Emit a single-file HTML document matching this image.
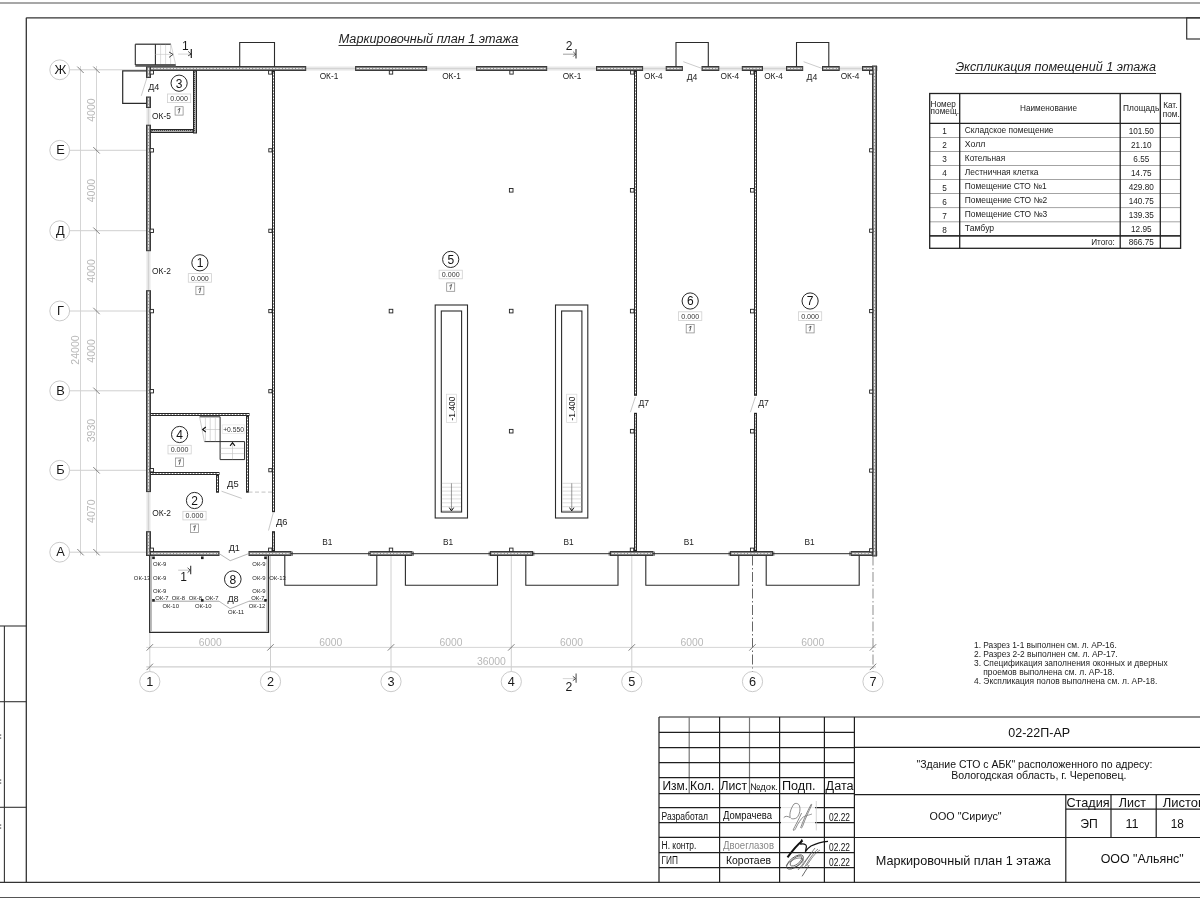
<!DOCTYPE html>
<html><head><meta charset="utf-8"><title>Маркировочный план 1 этажа</title>
<style>
html,body{margin:0;padding:0;background:#fff;}
body{width:1200px;height:900px;overflow:hidden;font-family:"Liberation Sans",sans-serif;}
svg{display:block;will-change:transform;}
</style></head>
<body>
<svg width="1200" height="900" viewBox="0 0 1200 900" font-family="Liberation Sans, sans-serif">
<rect width="1200" height="900" fill="#fff"/>
<line x1="0" y1="3" x2="1200" y2="3" stroke="#8a8a8a" stroke-width="1.4" />
<line x1="26.3" y1="17.8" x2="1200" y2="17.8" stroke="#333" stroke-width="1.3" />
<line x1="26.3" y1="17.8" x2="26.3" y2="882.3" stroke="#333" stroke-width="1.3" />
<line x1="0" y1="882.3" x2="1200" y2="882.3" stroke="#333" stroke-width="1.3" />
<line x1="0" y1="897.5" x2="1200" y2="897.5" stroke="#555" stroke-width="1.1" />
<rect x="1186.7" y="17.8" width="20" height="21.2" stroke="#333" stroke-width="1.2" fill="none" />
<line x1="0" y1="626" x2="26.3" y2="626" stroke="#333" stroke-width="1.1" />
<line x1="0" y1="701.7" x2="26.3" y2="701.7" stroke="#333" stroke-width="1.1" />
<line x1="0" y1="807.3" x2="26.3" y2="807.3" stroke="#333" stroke-width="1.1" />
<line x1="4.4" y1="626" x2="4.4" y2="882.3" stroke="#333" stroke-width="1.1" />
<rect x="0" y="734.5" width="1.2" height="1.1" fill="#444"/><rect x="0" y="737.5" width="1.2" height="1.1" fill="#444"/>
<rect x="0" y="779.5" width="1.2" height="1.1" fill="#444"/><rect x="0" y="782.5" width="1.2" height="1.1" fill="#444"/>
<rect x="0" y="824.5" width="1.2" height="1.1" fill="#444"/><rect x="0" y="827.5" width="1.2" height="1.1" fill="#444"/>
<text x="338.7" y="42.5" font-size="12" text-anchor="start" fill="#222" font-family="Liberation Sans" textLength="179.5" lengthAdjust="spacingAndGlyphs" font-style="italic" >Маркировочный план 1 этажа</text>
<line x1="338.5" y1="45.5" x2="518.5" y2="45.5" stroke="#333" stroke-width="1" />
<text x="955.4" y="70.8" font-size="12" text-anchor="start" fill="#222" font-family="Liberation Sans" textLength="200.5" lengthAdjust="spacingAndGlyphs" font-style="italic" >Экспликация помещений 1 этажа</text>
<line x1="955.2" y1="73.5" x2="1156" y2="73.5" stroke="#333" stroke-width="1" />
<circle cx="59.7" cy="69.8" r="9.9" stroke="#bdbdbd" stroke-width="0.8" fill="#fff"/>
<text x="60.4" y="73.89999999999999" font-size="12.8" text-anchor="middle" fill="#1a1a1a" font-family="Liberation Sans"  >Ж</text>
<line x1="69.6" y1="69.8" x2="146.5" y2="69.8" stroke="#cbcbcb" stroke-width="0.9" />
<circle cx="59.7" cy="150.3" r="9.9" stroke="#bdbdbd" stroke-width="0.8" fill="#fff"/>
<text x="60.4" y="154.4" font-size="12.8" text-anchor="middle" fill="#1a1a1a" font-family="Liberation Sans"  >Е</text>
<line x1="69.6" y1="150.3" x2="146.5" y2="150.3" stroke="#cbcbcb" stroke-width="0.9" />
<circle cx="59.7" cy="230.7" r="9.9" stroke="#bdbdbd" stroke-width="0.8" fill="#fff"/>
<text x="60.4" y="234.79999999999998" font-size="12.8" text-anchor="middle" fill="#1a1a1a" font-family="Liberation Sans"  >Д</text>
<line x1="69.6" y1="230.7" x2="146.5" y2="230.7" stroke="#cbcbcb" stroke-width="0.9" />
<circle cx="59.7" cy="311" r="9.9" stroke="#bdbdbd" stroke-width="0.8" fill="#fff"/>
<text x="60.4" y="315.1" font-size="12.8" text-anchor="middle" fill="#1a1a1a" font-family="Liberation Sans"  >Г</text>
<line x1="69.6" y1="311" x2="146.5" y2="311" stroke="#cbcbcb" stroke-width="0.9" />
<circle cx="59.7" cy="390.8" r="9.9" stroke="#bdbdbd" stroke-width="0.8" fill="#fff"/>
<text x="60.4" y="394.90000000000003" font-size="12.8" text-anchor="middle" fill="#1a1a1a" font-family="Liberation Sans"  >В</text>
<line x1="69.6" y1="390.8" x2="146.5" y2="390.8" stroke="#cbcbcb" stroke-width="0.9" />
<circle cx="59.7" cy="470.3" r="9.9" stroke="#bdbdbd" stroke-width="0.8" fill="#fff"/>
<text x="60.4" y="474.40000000000003" font-size="12.8" text-anchor="middle" fill="#1a1a1a" font-family="Liberation Sans"  >Б</text>
<line x1="69.6" y1="470.3" x2="146.5" y2="470.3" stroke="#cbcbcb" stroke-width="0.9" />
<circle cx="59.7" cy="552.2" r="9.9" stroke="#bdbdbd" stroke-width="0.8" fill="#fff"/>
<text x="60.4" y="556.3000000000001" font-size="12.8" text-anchor="middle" fill="#1a1a1a" font-family="Liberation Sans"  >А</text>
<line x1="69.6" y1="552.2" x2="146.5" y2="552.2" stroke="#cbcbcb" stroke-width="0.9" />
<line x1="80.5" y1="66" x2="80.5" y2="555.5" stroke="#d0d0d0" stroke-width="0.9" />
<line x1="96.5" y1="66" x2="96.5" y2="555.5" stroke="#d0d0d0" stroke-width="0.9" />
<line x1="93.3" y1="66.6" x2="99.7" y2="73.0" stroke="#606060" stroke-width="0.8" />
<line x1="93.3" y1="147.10000000000002" x2="99.7" y2="153.5" stroke="#606060" stroke-width="0.8" />
<line x1="93.3" y1="227.5" x2="99.7" y2="233.89999999999998" stroke="#606060" stroke-width="0.8" />
<line x1="93.3" y1="307.8" x2="99.7" y2="314.2" stroke="#606060" stroke-width="0.8" />
<line x1="93.3" y1="387.6" x2="99.7" y2="394.0" stroke="#606060" stroke-width="0.8" />
<line x1="93.3" y1="467.1" x2="99.7" y2="473.5" stroke="#606060" stroke-width="0.8" />
<line x1="93.3" y1="549.0" x2="99.7" y2="555.4000000000001" stroke="#606060" stroke-width="0.8" />
<line x1="77.3" y1="66.6" x2="83.7" y2="73.0" stroke="#606060" stroke-width="0.8" />
<line x1="77.3" y1="549.0" x2="83.7" y2="555.4000000000001" stroke="#606060" stroke-width="0.8" />
<text transform="translate(94.6,110.1) rotate(-90)" x="0" y="0" font-size="11" text-anchor="middle" fill="#b8b8b8" font-family="Liberation Sans" textLength="23.5" lengthAdjust="spacingAndGlyphs">4000</text>
<text transform="translate(94.6,190.5) rotate(-90)" x="0" y="0" font-size="11" text-anchor="middle" fill="#b8b8b8" font-family="Liberation Sans" textLength="23.5" lengthAdjust="spacingAndGlyphs">4000</text>
<text transform="translate(94.6,270.9) rotate(-90)" x="0" y="0" font-size="11" text-anchor="middle" fill="#b8b8b8" font-family="Liberation Sans" textLength="23.5" lengthAdjust="spacingAndGlyphs">4000</text>
<text transform="translate(94.6,350.9) rotate(-90)" x="0" y="0" font-size="11" text-anchor="middle" fill="#b8b8b8" font-family="Liberation Sans" textLength="23.5" lengthAdjust="spacingAndGlyphs">4000</text>
<text transform="translate(94.6,430.6) rotate(-90)" x="0" y="0" font-size="11" text-anchor="middle" fill="#b8b8b8" font-family="Liberation Sans" textLength="23.5" lengthAdjust="spacingAndGlyphs">3930</text>
<text transform="translate(94.6,511.2) rotate(-90)" x="0" y="0" font-size="11" text-anchor="middle" fill="#b8b8b8" font-family="Liberation Sans" textLength="23.5" lengthAdjust="spacingAndGlyphs">4070</text>
<text transform="translate(78.6,350.0) rotate(-90)" x="0" y="0" font-size="11" text-anchor="middle" fill="#b8b8b8" font-family="Liberation Sans" textLength="29.5" lengthAdjust="spacingAndGlyphs">24000</text>
<circle cx="149.8" cy="681.6" r="10.1" stroke="#bdbdbd" stroke-width="0.8" fill="#fff"/>
<text x="149.8" y="685.6" font-size="12.7" text-anchor="middle" fill="#1a1a1a" font-family="Liberation Sans"  >1</text>
<circle cx="270.5" cy="681.6" r="10.1" stroke="#bdbdbd" stroke-width="0.8" fill="#fff"/>
<text x="270.5" y="685.6" font-size="12.7" text-anchor="middle" fill="#1a1a1a" font-family="Liberation Sans"  >2</text>
<circle cx="391" cy="681.6" r="10.1" stroke="#bdbdbd" stroke-width="0.8" fill="#fff"/>
<text x="391" y="685.6" font-size="12.7" text-anchor="middle" fill="#1a1a1a" font-family="Liberation Sans"  >3</text>
<circle cx="511.3" cy="681.6" r="10.1" stroke="#bdbdbd" stroke-width="0.8" fill="#fff"/>
<text x="511.3" y="685.6" font-size="12.7" text-anchor="middle" fill="#1a1a1a" font-family="Liberation Sans"  >4</text>
<circle cx="631.8" cy="681.6" r="10.1" stroke="#bdbdbd" stroke-width="0.8" fill="#fff"/>
<text x="631.8" y="685.6" font-size="12.7" text-anchor="middle" fill="#1a1a1a" font-family="Liberation Sans"  >5</text>
<circle cx="752.5" cy="681.6" r="10.1" stroke="#bdbdbd" stroke-width="0.8" fill="#fff"/>
<text x="752.5" y="685.6" font-size="12.7" text-anchor="middle" fill="#1a1a1a" font-family="Liberation Sans"  >6</text>
<circle cx="873" cy="681.6" r="10.1" stroke="#bdbdbd" stroke-width="0.8" fill="#fff"/>
<text x="873" y="685.6" font-size="12.7" text-anchor="middle" fill="#1a1a1a" font-family="Liberation Sans"  >7</text>
<line x1="149.8" y1="632.5" x2="149.8" y2="671.4" stroke="#cbcbcb" stroke-width="0.9" />
<line x1="270.5" y1="555.5" x2="270.5" y2="671.4" stroke="#cbcbcb" stroke-width="0.9" />
<line x1="391" y1="555.5" x2="391" y2="671.4" stroke="#cbcbcb" stroke-width="0.9" />
<line x1="511.3" y1="555.5" x2="511.3" y2="671.4" stroke="#cbcbcb" stroke-width="0.9" />
<line x1="631.8" y1="555.5" x2="631.8" y2="671.4" stroke="#cbcbcb" stroke-width="0.9" />
<line x1="752.5" y1="555.5" x2="752.5" y2="671.4" stroke="#555" stroke-width="0.9" stroke-dasharray="10 2.5 1.5 2.5"/>
<line x1="873" y1="555.5" x2="873" y2="671.4" stroke="#999" stroke-width="1.1" stroke-dasharray="10 2.5 1.5 2.5"/>
<line x1="146.3" y1="647.4" x2="876" y2="647.4" stroke="#d0d0d0" stroke-width="0.9" />
<line x1="146.3" y1="666.9" x2="876" y2="666.9" stroke="#cfcfcf" stroke-width="1.4" />
<line x1="146.60000000000002" y1="650.6" x2="153.0" y2="644.1999999999999" stroke="#606060" stroke-width="0.8" />
<line x1="267.3" y1="650.6" x2="273.7" y2="644.1999999999999" stroke="#606060" stroke-width="0.8" />
<line x1="387.8" y1="650.6" x2="394.2" y2="644.1999999999999" stroke="#606060" stroke-width="0.8" />
<line x1="508.1" y1="650.6" x2="514.5" y2="644.1999999999999" stroke="#606060" stroke-width="0.8" />
<line x1="628.5999999999999" y1="650.6" x2="635.0" y2="644.1999999999999" stroke="#606060" stroke-width="0.8" />
<line x1="749.3" y1="650.6" x2="755.7" y2="644.1999999999999" stroke="#606060" stroke-width="0.8" />
<line x1="869.8" y1="650.6" x2="876.2" y2="644.1999999999999" stroke="#606060" stroke-width="0.8" />
<line x1="146.60000000000002" y1="670.1" x2="153.0" y2="663.6999999999999" stroke="#606060" stroke-width="0.8" />
<line x1="869.8" y1="670.1" x2="876.2" y2="663.6999999999999" stroke="#606060" stroke-width="0.8" />
<text x="210.2" y="645.5" font-size="11" text-anchor="middle" fill="#b8b8b8" font-family="Liberation Sans" textLength="23" lengthAdjust="spacingAndGlyphs"  >6000</text>
<text x="330.8" y="645.5" font-size="11" text-anchor="middle" fill="#b8b8b8" font-family="Liberation Sans" textLength="23" lengthAdjust="spacingAndGlyphs"  >6000</text>
<text x="451.1" y="645.5" font-size="11" text-anchor="middle" fill="#b8b8b8" font-family="Liberation Sans" textLength="23" lengthAdjust="spacingAndGlyphs"  >6000</text>
<text x="571.5" y="645.5" font-size="11" text-anchor="middle" fill="#b8b8b8" font-family="Liberation Sans" textLength="23" lengthAdjust="spacingAndGlyphs"  >6000</text>
<text x="692.1" y="645.5" font-size="11" text-anchor="middle" fill="#b8b8b8" font-family="Liberation Sans" textLength="23" lengthAdjust="spacingAndGlyphs"  >6000</text>
<text x="812.8" y="645.5" font-size="11" text-anchor="middle" fill="#b8b8b8" font-family="Liberation Sans" textLength="23" lengthAdjust="spacingAndGlyphs"  >6000</text>
<text x="491.4" y="665" font-size="11" text-anchor="middle" fill="#b8b8b8" font-family="Liberation Sans" textLength="29" lengthAdjust="spacingAndGlyphs"  >36000</text>
<rect x="305" y="66.5" width="51.00" height="4.10" fill="#e8e8e8"/>
<line x1="305" y1="68.55" x2="356" y2="68.55" stroke="#cdcdcd" stroke-width="0.8" />
<rect x="426" y="66.5" width="51.00" height="4.10" fill="#e8e8e8"/>
<line x1="426" y1="68.55" x2="477" y2="68.55" stroke="#cdcdcd" stroke-width="0.8" />
<rect x="546" y="66.5" width="51.00" height="4.10" fill="#e8e8e8"/>
<line x1="546" y1="68.55" x2="597" y2="68.55" stroke="#cdcdcd" stroke-width="0.8" />
<rect x="642" y="66.5" width="25.00" height="4.10" fill="#e8e8e8"/>
<line x1="642" y1="68.55" x2="667" y2="68.55" stroke="#cdcdcd" stroke-width="0.8" />
<rect x="718" y="66.5" width="25.00" height="4.10" fill="#e8e8e8"/>
<line x1="718" y1="68.55" x2="743" y2="68.55" stroke="#cdcdcd" stroke-width="0.8" />
<rect x="762" y="66.5" width="25.00" height="4.10" fill="#e8e8e8"/>
<line x1="762" y1="68.55" x2="787" y2="68.55" stroke="#cdcdcd" stroke-width="0.8" />
<rect x="839" y="66.5" width="24.00" height="4.10" fill="#e8e8e8"/>
<line x1="839" y1="68.55" x2="863" y2="68.55" stroke="#cdcdcd" stroke-width="0.8" />
<rect x="146.4" y="107" width="4.10" height="19.00" fill="#e8e8e8"/>
<line x1="148.45" y1="107" x2="148.45" y2="126" stroke="#cdcdcd" stroke-width="0.8" />
<rect x="146.4" y="250" width="4.10" height="41.00" fill="#e8e8e8"/>
<line x1="148.45" y1="250" x2="148.45" y2="291" stroke="#cdcdcd" stroke-width="0.8" />
<rect x="146.4" y="491" width="4.10" height="41.00" fill="#e8e8e8"/>
<line x1="148.45" y1="491" x2="148.45" y2="532" stroke="#cdcdcd" stroke-width="0.8" />
<rect x="146.5" y="66.5" width="159.20" height="4" fill="#808080" stroke="#3a3a3a" stroke-width="1"/>
<line x1="147.5" y1="68.5" x2="304.7" y2="68.5" stroke="#e8e8e8" stroke-width="1" stroke-dasharray="2.5 0.8"/>
<rect x="355.6" y="66.5" width="71.00" height="4" fill="#808080" stroke="#3a3a3a" stroke-width="1"/>
<line x1="356.6" y1="68.5" x2="425.6" y2="68.5" stroke="#e8e8e8" stroke-width="1" stroke-dasharray="2.5 0.8"/>
<rect x="476.5" y="66.5" width="70.20" height="4" fill="#808080" stroke="#3a3a3a" stroke-width="1"/>
<line x1="477.5" y1="68.5" x2="545.7" y2="68.5" stroke="#e8e8e8" stroke-width="1" stroke-dasharray="2.5 0.8"/>
<rect x="596.5" y="66.5" width="46.10" height="4" fill="#808080" stroke="#3a3a3a" stroke-width="1"/>
<line x1="597.5" y1="68.5" x2="641.6" y2="68.5" stroke="#e8e8e8" stroke-width="1" stroke-dasharray="2.5 0.8"/>
<rect x="666.2" y="66.5" width="16.20" height="4" fill="#808080" stroke="#3a3a3a" stroke-width="1"/>
<line x1="667.2" y1="68.5" x2="681.4" y2="68.5" stroke="#e8e8e8" stroke-width="1" stroke-dasharray="2.5 0.8"/>
<rect x="702" y="66.5" width="16.80" height="4" fill="#808080" stroke="#3a3a3a" stroke-width="1"/>
<line x1="703" y1="68.5" x2="717.8" y2="68.5" stroke="#e8e8e8" stroke-width="1" stroke-dasharray="2.5 0.8"/>
<rect x="742.3" y="66.5" width="20.20" height="4" fill="#808080" stroke="#3a3a3a" stroke-width="1"/>
<line x1="743.3" y1="68.5" x2="761.5" y2="68.5" stroke="#e8e8e8" stroke-width="1" stroke-dasharray="2.5 0.8"/>
<rect x="786.5" y="66.5" width="16.20" height="4" fill="#808080" stroke="#3a3a3a" stroke-width="1"/>
<line x1="787.5" y1="68.5" x2="801.7" y2="68.5" stroke="#e8e8e8" stroke-width="1" stroke-dasharray="2.5 0.8"/>
<rect x="822.5" y="66.5" width="16.70" height="4" fill="#808080" stroke="#3a3a3a" stroke-width="1"/>
<line x1="823.5" y1="68.5" x2="838.2" y2="68.5" stroke="#e8e8e8" stroke-width="1" stroke-dasharray="2.5 0.8"/>
<rect x="862.5" y="66.5" width="14.20" height="4" fill="#808080" stroke="#3a3a3a" stroke-width="1"/>
<line x1="863.5" y1="68.5" x2="875.7" y2="68.5" stroke="#e8e8e8" stroke-width="1" stroke-dasharray="2.5 0.8"/>
<rect x="146.5" y="551.5" width="72.50" height="4" fill="#808080" stroke="#3a3a3a" stroke-width="1"/>
<line x1="147.5" y1="553.5" x2="218" y2="553.5" stroke="#e8e8e8" stroke-width="1" stroke-dasharray="2.5 0.8"/>
<rect x="249" y="551.5" width="42.00" height="4" fill="#808080" stroke="#3a3a3a" stroke-width="1"/>
<line x1="250" y1="553.5" x2="290" y2="553.5" stroke="#e8e8e8" stroke-width="1" stroke-dasharray="2.5 0.8"/>
<rect x="370" y="551.5" width="42.00" height="4" fill="#808080" stroke="#3a3a3a" stroke-width="1"/>
<line x1="371" y1="553.5" x2="411" y2="553.5" stroke="#e8e8e8" stroke-width="1" stroke-dasharray="2.5 0.8"/>
<rect x="490.5" y="551.5" width="42.00" height="4" fill="#808080" stroke="#3a3a3a" stroke-width="1"/>
<line x1="491.5" y1="553.5" x2="531.5" y2="553.5" stroke="#e8e8e8" stroke-width="1" stroke-dasharray="2.5 0.8"/>
<rect x="610.5" y="551.5" width="42.50" height="4" fill="#808080" stroke="#3a3a3a" stroke-width="1"/>
<line x1="611.5" y1="553.5" x2="652" y2="553.5" stroke="#e8e8e8" stroke-width="1" stroke-dasharray="2.5 0.8"/>
<rect x="730.5" y="551.5" width="42.00" height="4" fill="#808080" stroke="#3a3a3a" stroke-width="1"/>
<line x1="731.5" y1="553.5" x2="771.5" y2="553.5" stroke="#e8e8e8" stroke-width="1" stroke-dasharray="2.5 0.8"/>
<rect x="851.2" y="551.5" width="25.50" height="4" fill="#808080" stroke="#3a3a3a" stroke-width="1"/>
<line x1="852.2" y1="553.5" x2="875.7" y2="553.5" stroke="#e8e8e8" stroke-width="1" stroke-dasharray="2.5 0.8"/>
<line x1="291" y1="553.7" x2="370" y2="553.7" stroke="#2b2b2b" stroke-width="1" />
<line x1="292.3" y1="551.6" x2="292.3" y2="555.8" stroke="#2b2b2b" stroke-width="0.8" />
<line x1="368.7" y1="551.6" x2="368.7" y2="555.8" stroke="#2b2b2b" stroke-width="0.8" />
<line x1="412" y1="553.7" x2="490.5" y2="553.7" stroke="#2b2b2b" stroke-width="1" />
<line x1="413.3" y1="551.6" x2="413.3" y2="555.8" stroke="#2b2b2b" stroke-width="0.8" />
<line x1="489.2" y1="551.6" x2="489.2" y2="555.8" stroke="#2b2b2b" stroke-width="0.8" />
<line x1="532.5" y1="553.7" x2="610.5" y2="553.7" stroke="#2b2b2b" stroke-width="1" />
<line x1="533.8" y1="551.6" x2="533.8" y2="555.8" stroke="#2b2b2b" stroke-width="0.8" />
<line x1="609.2" y1="551.6" x2="609.2" y2="555.8" stroke="#2b2b2b" stroke-width="0.8" />
<line x1="653" y1="553.7" x2="730.5" y2="553.7" stroke="#2b2b2b" stroke-width="1" />
<line x1="654.3" y1="551.6" x2="654.3" y2="555.8" stroke="#2b2b2b" stroke-width="0.8" />
<line x1="729.2" y1="551.6" x2="729.2" y2="555.8" stroke="#2b2b2b" stroke-width="0.8" />
<line x1="772.5" y1="553.7" x2="851.2" y2="553.7" stroke="#2b2b2b" stroke-width="1" />
<line x1="773.8" y1="551.6" x2="773.8" y2="555.8" stroke="#2b2b2b" stroke-width="0.8" />
<line x1="849.9000000000001" y1="551.6" x2="849.9000000000001" y2="555.8" stroke="#2b2b2b" stroke-width="0.8" />
<rect x="146.5" y="66.8" width="4" height="10.70" fill="#808080" stroke="#3a3a3a" stroke-width="1"/>
<line x1="148.5" y1="67.8" x2="148.5" y2="76.5" stroke="#e8e8e8" stroke-width="1" stroke-dasharray="2.5 0.8"/>
<rect x="146.5" y="97" width="4" height="10.50" fill="#808080" stroke="#3a3a3a" stroke-width="1"/>
<line x1="148.5" y1="98" x2="148.5" y2="106.5" stroke="#e8e8e8" stroke-width="1" stroke-dasharray="2.5 0.8"/>
<rect x="146.5" y="125.2" width="4" height="125.50" fill="#808080" stroke="#3a3a3a" stroke-width="1"/>
<line x1="148.5" y1="126.2" x2="148.5" y2="249.7" stroke="#e8e8e8" stroke-width="1" stroke-dasharray="2.5 0.8"/>
<rect x="146.5" y="290.7" width="4" height="200.90" fill="#808080" stroke="#3a3a3a" stroke-width="1"/>
<line x1="148.5" y1="291.7" x2="148.5" y2="490.6" stroke="#e8e8e8" stroke-width="1" stroke-dasharray="2.5 0.8"/>
<rect x="146.5" y="531.7" width="4" height="23.70" fill="#808080" stroke="#3a3a3a" stroke-width="1"/>
<line x1="148.5" y1="532.7" x2="148.5" y2="554.4" stroke="#e8e8e8" stroke-width="1" stroke-dasharray="2.5 0.8"/>
<rect x="872.5" y="66" width="4" height="490.00" fill="#808080" stroke="#3a3a3a" stroke-width="1"/>
<line x1="874.5" y1="67" x2="874.5" y2="555" stroke="#e8e8e8" stroke-width="1" stroke-dasharray="2.5 0.8"/>
<rect x="272.5" y="71" width="2" height="440.70" fill="#ffffff" stroke="#262626" stroke-width="1"/>
<line x1="273.5" y1="72" x2="273.5" y2="510.7" stroke="#9a9a9a" stroke-width="1" stroke-dasharray="2 1"/>
<rect x="272.5" y="531.7" width="2" height="19.30" fill="#ffffff" stroke="#262626" stroke-width="1"/>
<line x1="273.5" y1="532.7" x2="273.5" y2="550" stroke="#9a9a9a" stroke-width="1" stroke-dasharray="2 1"/>
<rect x="634.5" y="71" width="2" height="324.30" fill="#ffffff" stroke="#262626" stroke-width="1"/>
<line x1="635.5" y1="72" x2="635.5" y2="394.3" stroke="#9a9a9a" stroke-width="1" stroke-dasharray="2 1"/>
<rect x="634.5" y="413.3" width="2" height="137.70" fill="#ffffff" stroke="#262626" stroke-width="1"/>
<line x1="635.5" y1="414.3" x2="635.5" y2="550" stroke="#9a9a9a" stroke-width="1" stroke-dasharray="2 1"/>
<rect x="754.5" y="71" width="2" height="324.30" fill="#ffffff" stroke="#262626" stroke-width="1"/>
<line x1="755.5" y1="72" x2="755.5" y2="394.3" stroke="#9a9a9a" stroke-width="1" stroke-dasharray="2 1"/>
<rect x="754.5" y="413.3" width="2" height="137.70" fill="#ffffff" stroke="#262626" stroke-width="1"/>
<line x1="755.5" y1="414.3" x2="755.5" y2="550" stroke="#9a9a9a" stroke-width="1" stroke-dasharray="2 1"/>
<rect x="193.5" y="71" width="3" height="62.00" fill="#a8a8a8" stroke="#262626" stroke-width="1"/>
<line x1="194.5" y1="72" x2="194.5" y2="132" stroke="#4a4a4a" stroke-width="1" stroke-dasharray="1 1"/>
<rect x="151" y="129.5" width="42.00" height="3" fill="#a8a8a8" stroke="#262626" stroke-width="1"/>
<line x1="152" y1="130.5" x2="192" y2="130.5" stroke="#4a4a4a" stroke-width="1" stroke-dasharray="1 1"/>
<rect x="151" y="413.5" width="98.00" height="2" fill="#ffffff" stroke="#262626" stroke-width="1"/>
<line x1="152" y1="414.5" x2="248" y2="414.5" stroke="#9a9a9a" stroke-width="1" stroke-dasharray="2 1"/>
<rect x="246.5" y="416" width="2" height="76.20" fill="#ffffff" stroke="#262626" stroke-width="1"/>
<line x1="247.5" y1="417" x2="247.5" y2="491.2" stroke="#9a9a9a" stroke-width="1" stroke-dasharray="2 1"/>
<rect x="151" y="472.5" width="68.00" height="2" fill="#ffffff" stroke="#262626" stroke-width="1"/>
<line x1="152" y1="473.5" x2="218" y2="473.5" stroke="#9a9a9a" stroke-width="1" stroke-dasharray="2 1"/>
<rect x="216.5" y="475" width="2" height="17.20" fill="#ffffff" stroke="#262626" stroke-width="1"/>
<line x1="217.5" y1="476" x2="217.5" y2="491.2" stroke="#9a9a9a" stroke-width="1" stroke-dasharray="2 1"/>
<rect x="150.10000000000002" y="70.7" width="3.4" height="3.4" stroke="#222" stroke-width="0.9" fill="#fff" />
<rect x="268.6" y="70.7" width="3.4" height="3.4" stroke="#222" stroke-width="0.9" fill="#fff" />
<rect x="389.3" y="70.7" width="3.4" height="3.4" stroke="#222" stroke-width="0.9" fill="#fff" />
<rect x="509.8" y="70.7" width="3.4" height="3.4" stroke="#222" stroke-width="0.9" fill="#fff" />
<rect x="630.5999999999999" y="70.7" width="3.4" height="3.4" stroke="#222" stroke-width="0.9" fill="#fff" />
<rect x="750.5" y="70.7" width="3.4" height="3.4" stroke="#222" stroke-width="0.9" fill="#fff" />
<rect x="869.5" y="70.7" width="3.4" height="3.4" stroke="#222" stroke-width="0.9" fill="#fff" />
<rect x="150.10000000000002" y="148.60000000000002" width="3.4" height="3.4" stroke="#222" stroke-width="0.9" fill="#fff" />
<rect x="150.10000000000002" y="229.10000000000002" width="3.4" height="3.4" stroke="#222" stroke-width="0.9" fill="#fff" />
<rect x="150.10000000000002" y="309.40000000000003" width="3.4" height="3.4" stroke="#222" stroke-width="0.9" fill="#fff" />
<rect x="150.10000000000002" y="389.5" width="3.4" height="3.4" stroke="#222" stroke-width="0.9" fill="#fff" />
<rect x="150.10000000000002" y="468.5" width="3.4" height="3.4" stroke="#222" stroke-width="0.9" fill="#fff" />
<rect x="268.79999999999995" y="148.70000000000002" width="3.2" height="3.2" stroke="#222" stroke-width="0.9" fill="#fff" />
<rect x="268.79999999999995" y="229.20000000000002" width="3.2" height="3.2" stroke="#222" stroke-width="0.9" fill="#fff" />
<rect x="268.79999999999995" y="309.5" width="3.2" height="3.2" stroke="#222" stroke-width="0.9" fill="#fff" />
<rect x="268.79999999999995" y="389.59999999999997" width="3.2" height="3.2" stroke="#222" stroke-width="0.9" fill="#fff" />
<rect x="268.79999999999995" y="468.59999999999997" width="3.2" height="3.2" stroke="#222" stroke-width="0.9" fill="#fff" />
<rect x="869.6" y="148.70000000000002" width="3.2" height="3.2" stroke="#222" stroke-width="0.9" fill="#fff" />
<rect x="869.6" y="229.1" width="3.2" height="3.2" stroke="#222" stroke-width="0.9" fill="#fff" />
<rect x="869.6" y="309.5" width="3.2" height="3.2" stroke="#222" stroke-width="0.9" fill="#fff" />
<rect x="869.6" y="390.0" width="3.2" height="3.2" stroke="#222" stroke-width="0.9" fill="#fff" />
<rect x="869.6" y="469.0" width="3.2" height="3.2" stroke="#222" stroke-width="0.9" fill="#fff" />
<rect x="869.6" y="548.6999999999999" width="3.2" height="3.2" stroke="#222" stroke-width="0.9" fill="#fff" />
<rect x="630.4000000000001" y="188.5" width="3.6" height="3.6" stroke="#222" stroke-width="0.9" fill="#fff" />
<rect x="630.4000000000001" y="309.3" width="3.6" height="3.6" stroke="#222" stroke-width="0.9" fill="#fff" />
<rect x="630.4000000000001" y="429.4" width="3.6" height="3.6" stroke="#222" stroke-width="0.9" fill="#fff" />
<rect x="750.5" y="188.5" width="3.6" height="3.6" stroke="#222" stroke-width="0.9" fill="#fff" />
<rect x="750.5" y="309.3" width="3.6" height="3.6" stroke="#222" stroke-width="0.9" fill="#fff" />
<rect x="750.5" y="429.4" width="3.6" height="3.6" stroke="#222" stroke-width="0.9" fill="#fff" />
<rect x="389.2" y="309.3" width="3.6" height="3.6" stroke="#222" stroke-width="0.9" fill="#fff" />
<rect x="509.4" y="188.5" width="3.6" height="3.6" stroke="#222" stroke-width="0.9" fill="#fff" />
<rect x="509.4" y="309.3" width="3.6" height="3.6" stroke="#222" stroke-width="0.9" fill="#fff" />
<rect x="509.4" y="429.4" width="3.6" height="3.6" stroke="#222" stroke-width="0.9" fill="#fff" />
<rect x="150.10000000000002" y="548.0999999999999" width="3.4" height="3.4" stroke="#222" stroke-width="0.9" fill="#fff" />
<rect x="268.6" y="548.0999999999999" width="3.4" height="3.4" stroke="#222" stroke-width="0.9" fill="#fff" />
<rect x="389.3" y="548.0999999999999" width="3.4" height="3.4" stroke="#222" stroke-width="0.9" fill="#fff" />
<rect x="509.6" y="548.0999999999999" width="3.4" height="3.4" stroke="#222" stroke-width="0.9" fill="#fff" />
<rect x="630.3" y="548.0999999999999" width="3.4" height="3.4" stroke="#222" stroke-width="0.9" fill="#fff" />
<rect x="750.5" y="548.0999999999999" width="3.4" height="3.4" stroke="#222" stroke-width="0.9" fill="#fff" />
<rect x="135.3" y="64.0" width="40.5" height="2.8" fill="#5a5a5a"/>
<line x1="135.3" y1="44.25" x2="170.9" y2="44.25" stroke="#555" stroke-width="1.3" />
<line x1="135.3" y1="44.25" x2="135.3" y2="65" stroke="#2b2b2b" stroke-width="1.1" />
<line x1="155.4" y1="44.25" x2="155.4" y2="65" stroke="#2b2b2b" stroke-width="1.1" />
<line x1="160.6" y1="44.8" x2="160.6" y2="64" stroke="#c4c4c4" stroke-width="0.6" />
<line x1="165.6" y1="44.8" x2="165.6" y2="64" stroke="#c4c4c4" stroke-width="0.6" />
<line x1="170.6" y1="44.8" x2="170.6" y2="64" stroke="#c4c4c4" stroke-width="0.6" />
<line x1="170.9" y1="44.25" x2="175.6" y2="64.3" stroke="#bbb" stroke-width="0.6" />
<line x1="155.4" y1="54.4" x2="170" y2="54.4" stroke="#c4c4c4" stroke-width="0.6" />
<path d="M169,52 L173.1,54.4 L169,57.4" stroke="#222" stroke-width="0.8" fill="none" />
<text x="185.3" y="49.6" font-size="12" text-anchor="middle" fill="#1a1a1a" font-family="Liberation Sans"  >1</text>
<line x1="178.1" y1="54.1" x2="191" y2="54.1" stroke="#ccc" stroke-width="0.8" />
<path d="M188.1,51.4 L191.2,54.1 L188.1,55.8" stroke="#222" stroke-width="0.8" fill="none" />
<line x1="191.3" y1="48.9" x2="191.3" y2="57.9" stroke="#222" stroke-width="1.2" />
<path d="M146.5,70.8 H122.7 V103.3 H146.5" stroke="#2b2b2b" stroke-width="1.2" fill="none" />
<line x1="147" y1="77.5" x2="141.3" y2="95.8" stroke="#999" stroke-width="0.5" />
<path d="M239.7,66.8 V42.5 H274.5 V66.8" stroke="#2b2b2b" stroke-width="1.1" fill="none" />
<path d="M676,66.8 V42.5 H708.3 V66.8" stroke="#2b2b2b" stroke-width="1.1" fill="none" />
<path d="M796.5,66.8 V42.5 H828.8 V66.8" stroke="#2b2b2b" stroke-width="1.1" fill="none" />
<line x1="683.3" y1="61.7" x2="701.5" y2="68.3" stroke="#999" stroke-width="0.5" />
<line x1="803.6" y1="61.7" x2="821.8" y2="68.3" stroke="#999" stroke-width="0.5" />
<text x="569" y="50" font-size="12" text-anchor="middle" fill="#1a1a1a" font-family="Liberation Sans"  >2</text>
<line x1="563" y1="54.2" x2="575.8" y2="54.2" stroke="#888" stroke-width="0.8" />
<path d="M573.2,51.8 L575.6,54.2 L573.2,56.6" stroke="#222" stroke-width="0.7" fill="none" />
<line x1="576" y1="49" x2="576" y2="58.5" stroke="#222" stroke-width="1" />
<path d="M284.8,555.4 V585.3 H376.8 V555.4" stroke="#2b2b2b" stroke-width="1.1" fill="none" />
<path d="M405.4,555.4 V585.3 H497.5 V555.4" stroke="#2b2b2b" stroke-width="1.1" fill="none" />
<path d="M525.8,555.4 V585.3 H618 V555.4" stroke="#2b2b2b" stroke-width="1.1" fill="none" />
<path d="M645.8,555.4 V585.3 H738.8 V555.4" stroke="#2b2b2b" stroke-width="1.1" fill="none" />
<path d="M766.2,555.4 V585.3 H859.2 V555.4" stroke="#2b2b2b" stroke-width="1.1" fill="none" />
<text x="568.9" y="690.7" font-size="12.2" text-anchor="middle" fill="#1a1a1a" font-family="Liberation Sans"  >2</text>
<line x1="562.8" y1="678.6" x2="575.5" y2="678.6" stroke="#ccc" stroke-width="0.8" />
<path d="M572.8,676.3 L575.8,678.6 L572.8,680.6" stroke="#222" stroke-width="0.8" fill="none" />
<line x1="576.1" y1="673.5" x2="576.1" y2="682.8" stroke="#666" stroke-width="1.2" />
<path d="M149.7,555.4 V632.3 H268.5 V555.4" stroke="#2b2b2b" stroke-width="1.3" fill="none" />
<line x1="151.2" y1="556" x2="151.2" y2="631" stroke="#aaa" stroke-width="1.2" />
<line x1="267" y1="556" x2="267" y2="631" stroke="#aaa" stroke-width="1.2" />
<line x1="152" y1="601.2" x2="219" y2="601.2" stroke="#999" stroke-width="0.9" />
<line x1="249" y1="601.2" x2="266" y2="601.2" stroke="#999" stroke-width="0.9" />
<path d="M219,553.5 L230.2,560.7 L249,553.5" stroke="#888" stroke-width="0.6" fill="none" />
<path d="M219,601.2 L230.2,608.7 L249,601.2" stroke="#888" stroke-width="0.6" fill="none" />
<rect x="152.2" y="556.5" width="2.6" height="2.6" fill="#222"/>
<rect x="201.0" y="556.5" width="2.6" height="2.6" fill="#222"/>
<rect x="264.2" y="556.5" width="2.6" height="2.6" fill="#222"/>
<rect x="152.2" y="599.0" width="2.6" height="2.6" fill="#222"/>
<rect x="201.0" y="599.0" width="2.6" height="2.6" fill="#222"/>
<rect x="264.2" y="599.0" width="2.6" height="2.6" fill="#222"/>
<text x="153" y="566.3" font-size="5.9" text-anchor="start" fill="#222" font-family="Liberation Sans"  >ОК-9</text>
<text x="153" y="579.8" font-size="5.9" text-anchor="start" fill="#222" font-family="Liberation Sans"  >ОК-9</text>
<text x="153" y="592.5" font-size="5.9" text-anchor="start" fill="#222" font-family="Liberation Sans"  >ОК-9</text>
<text x="252.3" y="566.3" font-size="5.9" text-anchor="start" fill="#222" font-family="Liberation Sans"  >ОК-9</text>
<text x="252.3" y="579.8" font-size="5.9" text-anchor="start" fill="#222" font-family="Liberation Sans"  >ОК-9</text>
<text x="252.3" y="592.5" font-size="5.9" text-anchor="start" fill="#222" font-family="Liberation Sans"  >ОК-9</text>
<text x="133.8" y="579.8" font-size="5.9" text-anchor="start" fill="#222" font-family="Liberation Sans"  >ОК-13</text>
<text x="269.2" y="579.8" font-size="5.9" text-anchor="start" fill="#222" font-family="Liberation Sans"  >ОК-13</text>
<text x="155.2" y="600.3" font-size="5.9" text-anchor="start" fill="#222" font-family="Liberation Sans"  >ОК-7</text>
<text x="171.7" y="600.3" font-size="5.9" text-anchor="start" fill="#222" font-family="Liberation Sans"  >ОК-8</text>
<text x="188.7" y="600.3" font-size="5.9" text-anchor="start" fill="#222" font-family="Liberation Sans"  >ОК-8</text>
<text x="205.2" y="600.3" font-size="5.9" text-anchor="start" fill="#222" font-family="Liberation Sans"  >ОК-7</text>
<text x="251.2" y="600.3" font-size="5.9" text-anchor="start" fill="#222" font-family="Liberation Sans"  >ОК-7</text>
<text x="162.4" y="608.3" font-size="5.9" text-anchor="start" fill="#222" font-family="Liberation Sans"  >ОК-10</text>
<text x="195" y="608.3" font-size="5.9" text-anchor="start" fill="#222" font-family="Liberation Sans"  >ОК-10</text>
<text x="248.7" y="608.3" font-size="5.9" text-anchor="start" fill="#222" font-family="Liberation Sans"  >ОК-12</text>
<text x="228" y="614.3" font-size="5.9" text-anchor="start" fill="#222" font-family="Liberation Sans"  >ОК-11</text>
<text x="228.7" y="551" font-size="9" text-anchor="start" fill="#222" font-family="Liberation Sans"  >Д1</text>
<text x="227.4" y="601.5" font-size="9.2" text-anchor="start" fill="#222" font-family="Liberation Sans"  >Д8</text>
<text x="183.7" y="580.5" font-size="12" text-anchor="middle" fill="#1a1a1a" font-family="Liberation Sans"  >1</text>
<line x1="178.2" y1="570.2" x2="190.3" y2="570.2" stroke="#bbb" stroke-width="0.8" />
<path d="M187.6,567.8 L190.3,570.2 L187.6,572.6" stroke="#222" stroke-width="0.8" fill="none" />
<line x1="190.7" y1="565.7" x2="190.7" y2="574.2" stroke="#333" stroke-width="1.1" />
<circle cx="199.9" cy="262.8" r="8.1" stroke="#1e1e1e" stroke-width="0.95" fill="#fff"/>
<text x="200.0" y="267.1" font-size="12" text-anchor="middle" fill="#111" font-family="Liberation Sans"  >1</text>
<rect x="188.3" y="273.6" width="23.2" height="8.6" stroke="#d0d0d0" stroke-width="0.8" fill="#fff" />
<text x="199.9" y="280.7" font-size="7.6" text-anchor="middle" fill="#333" font-family="Liberation Sans" textLength="17.8" lengthAdjust="spacingAndGlyphs"  >0.000</text>
<rect x="195.9" y="286.3" width="8" height="8.4" stroke="#8a8a8a" stroke-width="0.75" fill="#fff" />
<path d="M198.5,289.40000000000003 L200.8,287.90000000000003 L199.5,293.0" stroke="#444" stroke-width="0.85" fill="none" />
<circle cx="194.5" cy="500.5" r="8.1" stroke="#1e1e1e" stroke-width="0.95" fill="#fff"/>
<text x="194.6" y="504.8" font-size="12" text-anchor="middle" fill="#111" font-family="Liberation Sans"  >2</text>
<rect x="182.9" y="511.3" width="23.2" height="8.6" stroke="#d0d0d0" stroke-width="0.8" fill="#fff" />
<text x="194.5" y="518.4" font-size="7.6" text-anchor="middle" fill="#333" font-family="Liberation Sans" textLength="17.8" lengthAdjust="spacingAndGlyphs"  >0.000</text>
<rect x="190.5" y="524.0" width="8" height="8.4" stroke="#8a8a8a" stroke-width="0.75" fill="#fff" />
<path d="M193.1,527.1 L195.4,525.6 L194.1,530.7" stroke="#444" stroke-width="0.85" fill="none" />
<circle cx="179.1" cy="83.2" r="8.1" stroke="#1e1e1e" stroke-width="0.95" fill="#fff"/>
<text x="179.2" y="87.5" font-size="12" text-anchor="middle" fill="#111" font-family="Liberation Sans"  >3</text>
<rect x="167.5" y="94.0" width="23.2" height="8.6" stroke="#d0d0d0" stroke-width="0.8" fill="#fff" />
<text x="179.1" y="101.1" font-size="7.6" text-anchor="middle" fill="#333" font-family="Liberation Sans" textLength="17.8" lengthAdjust="spacingAndGlyphs"  >0.000</text>
<rect x="175.1" y="106.7" width="8" height="8.4" stroke="#8a8a8a" stroke-width="0.75" fill="#fff" />
<path d="M177.7,109.80000000000001 L180.0,108.30000000000001 L178.7,113.4" stroke="#444" stroke-width="0.85" fill="none" />
<circle cx="179.6" cy="434.5" r="8.1" stroke="#1e1e1e" stroke-width="0.95" fill="#fff"/>
<text x="179.7" y="438.8" font-size="12" text-anchor="middle" fill="#111" font-family="Liberation Sans"  >4</text>
<rect x="168.0" y="445.3" width="23.2" height="8.6" stroke="#d0d0d0" stroke-width="0.8" fill="#fff" />
<text x="179.6" y="452.4" font-size="7.6" text-anchor="middle" fill="#333" font-family="Liberation Sans" textLength="17.8" lengthAdjust="spacingAndGlyphs"  >0.000</text>
<rect x="175.6" y="458.0" width="8" height="8.4" stroke="#8a8a8a" stroke-width="0.75" fill="#fff" />
<path d="M178.2,461.1 L180.5,459.6 L179.2,464.7" stroke="#444" stroke-width="0.85" fill="none" />
<circle cx="450.7" cy="259.4" r="8.1" stroke="#1e1e1e" stroke-width="0.95" fill="#fff"/>
<text x="450.8" y="263.7" font-size="12" text-anchor="middle" fill="#111" font-family="Liberation Sans"  >5</text>
<rect x="439.09999999999997" y="270.2" width="23.2" height="8.6" stroke="#d0d0d0" stroke-width="0.8" fill="#fff" />
<text x="450.7" y="277.29999999999995" font-size="7.6" text-anchor="middle" fill="#333" font-family="Liberation Sans" textLength="17.8" lengthAdjust="spacingAndGlyphs"  >0.000</text>
<rect x="446.7" y="282.9" width="8" height="8.4" stroke="#8a8a8a" stroke-width="0.75" fill="#fff" />
<path d="M449.3,286.0 L451.59999999999997,284.5 L450.3,289.59999999999997" stroke="#444" stroke-width="0.85" fill="none" />
<circle cx="690.2" cy="301" r="8.1" stroke="#1e1e1e" stroke-width="0.95" fill="#fff"/>
<text x="690.3000000000001" y="305.3" font-size="12" text-anchor="middle" fill="#111" font-family="Liberation Sans"  >6</text>
<rect x="678.6" y="311.8" width="23.2" height="8.6" stroke="#d0d0d0" stroke-width="0.8" fill="#fff" />
<text x="690.2" y="318.9" font-size="7.6" text-anchor="middle" fill="#333" font-family="Liberation Sans" textLength="17.8" lengthAdjust="spacingAndGlyphs"  >0.000</text>
<rect x="686.2" y="324.5" width="8" height="8.4" stroke="#8a8a8a" stroke-width="0.75" fill="#fff" />
<path d="M688.8000000000001,327.6 L691.1,326.1 L689.8000000000001,331.2" stroke="#444" stroke-width="0.85" fill="none" />
<circle cx="810.1" cy="301" r="8.1" stroke="#1e1e1e" stroke-width="0.95" fill="#fff"/>
<text x="810.2" y="305.3" font-size="12" text-anchor="middle" fill="#111" font-family="Liberation Sans"  >7</text>
<rect x="798.5" y="311.8" width="23.2" height="8.6" stroke="#d0d0d0" stroke-width="0.8" fill="#fff" />
<text x="810.1" y="318.9" font-size="7.6" text-anchor="middle" fill="#333" font-family="Liberation Sans" textLength="17.8" lengthAdjust="spacingAndGlyphs"  >0.000</text>
<rect x="806.1" y="324.5" width="8" height="8.4" stroke="#8a8a8a" stroke-width="0.75" fill="#fff" />
<path d="M808.7,327.6 L811.0,326.1 L809.7,331.2" stroke="#444" stroke-width="0.85" fill="none" />
<circle cx="232.8" cy="579.2" r="8.3" stroke="#1e1e1e" stroke-width="0.95" fill="#fff"/>
<text x="232.9" y="583.5" font-size="12" text-anchor="middle" fill="#111" font-family="Liberation Sans"  >8</text>
<rect x="435.2" y="305" width="32.3" height="213" stroke="#2b2b2b" stroke-width="1.1" fill="none" />
<rect x="441.3" y="311" width="20.3" height="201" stroke="#2b2b2b" stroke-width="1.1" fill="none" />
<line x1="441.90000000000003" y1="483.3" x2="461.0" y2="483.3" stroke="#c4c4c4" stroke-width="0.6" />
<line x1="441.90000000000003" y1="487.2" x2="461.0" y2="487.2" stroke="#c4c4c4" stroke-width="0.6" />
<line x1="441.90000000000003" y1="491.1" x2="461.0" y2="491.1" stroke="#c4c4c4" stroke-width="0.6" />
<line x1="441.90000000000003" y1="495.0" x2="461.0" y2="495.0" stroke="#c4c4c4" stroke-width="0.6" />
<line x1="441.90000000000003" y1="498.90000000000003" x2="461.0" y2="498.90000000000003" stroke="#c4c4c4" stroke-width="0.6" />
<line x1="441.90000000000003" y1="502.8" x2="461.0" y2="502.8" stroke="#c4c4c4" stroke-width="0.6" />
<line x1="441.90000000000003" y1="506.7" x2="461.0" y2="506.7" stroke="#c4c4c4" stroke-width="0.6" />
<line x1="441.90000000000003" y1="510.6" x2="461.0" y2="510.6" stroke="#c4c4c4" stroke-width="0.6" />
<line x1="451.45" y1="483.3" x2="451.45" y2="511" stroke="#666" stroke-width="0.65" />
<path d="M449.25,507.6 L451.45,510.9 L453.65,507.6" stroke="#111" stroke-width="1.0" fill="none" />
<rect x="446.34999999999997" y="394.2" width="10.2" height="28.3" stroke="#d6d6d6" stroke-width="0.7" fill="#fff" />
<text transform="translate(454.55,408.6) rotate(-90)" x="0" y="0" font-size="8.6" text-anchor="middle" fill="#222" font-family="Liberation Sans" textLength="24" lengthAdjust="spacingAndGlyphs">-1.400</text>
<rect x="555.5" y="305" width="32.3" height="213" stroke="#2b2b2b" stroke-width="1.1" fill="none" />
<rect x="561.6" y="311" width="20.3" height="201" stroke="#2b2b2b" stroke-width="1.1" fill="none" />
<line x1="562.2" y1="483.3" x2="581.3000000000001" y2="483.3" stroke="#c4c4c4" stroke-width="0.6" />
<line x1="562.2" y1="487.2" x2="581.3000000000001" y2="487.2" stroke="#c4c4c4" stroke-width="0.6" />
<line x1="562.2" y1="491.1" x2="581.3000000000001" y2="491.1" stroke="#c4c4c4" stroke-width="0.6" />
<line x1="562.2" y1="495.0" x2="581.3000000000001" y2="495.0" stroke="#c4c4c4" stroke-width="0.6" />
<line x1="562.2" y1="498.90000000000003" x2="581.3000000000001" y2="498.90000000000003" stroke="#c4c4c4" stroke-width="0.6" />
<line x1="562.2" y1="502.8" x2="581.3000000000001" y2="502.8" stroke="#c4c4c4" stroke-width="0.6" />
<line x1="562.2" y1="506.7" x2="581.3000000000001" y2="506.7" stroke="#c4c4c4" stroke-width="0.6" />
<line x1="562.2" y1="510.6" x2="581.3000000000001" y2="510.6" stroke="#c4c4c4" stroke-width="0.6" />
<line x1="571.75" y1="483.3" x2="571.75" y2="511" stroke="#666" stroke-width="0.65" />
<path d="M569.55,507.6 L571.75,510.9 L573.95,507.6" stroke="#111" stroke-width="1.0" fill="none" />
<rect x="566.65" y="394.2" width="10.2" height="28.3" stroke="#d6d6d6" stroke-width="0.7" fill="#fff" />
<text transform="translate(574.85,408.6) rotate(-90)" x="0" y="0" font-size="8.6" text-anchor="middle" fill="#222" font-family="Liberation Sans" textLength="24" lengthAdjust="spacingAndGlyphs">-1.400</text>
<line x1="199.6" y1="416.8" x2="220.1" y2="416.8" stroke="#2b2b2b" stroke-width="1" />
<line x1="204.4" y1="441.6" x2="244.6" y2="441.6" stroke="#2b2b2b" stroke-width="1" />
<line x1="199.6" y1="416.8" x2="204.4" y2="441.6" stroke="#aaa" stroke-width="0.6" />
<line x1="205.4" y1="417.3" x2="205.4" y2="441.2" stroke="#c0c0c0" stroke-width="0.6" />
<line x1="210.2" y1="417.3" x2="210.2" y2="441.2" stroke="#c0c0c0" stroke-width="0.6" />
<line x1="215.3" y1="417.3" x2="215.3" y2="441.2" stroke="#c0c0c0" stroke-width="0.6" />
<line x1="205" y1="429.5" x2="220" y2="429.5" stroke="#c0c0c0" stroke-width="0.6" />
<path d="M205.8,427 L202.6,429.5 L205.8,432" stroke="#111" stroke-width="1.1" fill="none" />
<line x1="220.1" y1="416.8" x2="220.1" y2="459.6" stroke="#2b2b2b" stroke-width="1" />
<line x1="220.1" y1="459.6" x2="244.6" y2="459.6" stroke="#2b2b2b" stroke-width="1" />
<line x1="244.6" y1="441.6" x2="244.6" y2="459.6" stroke="#2b2b2b" stroke-width="1" />
<line x1="220.6" y1="448.3" x2="244.1" y2="448.3" stroke="#c0c0c0" stroke-width="0.6" />
<line x1="220.6" y1="453.6" x2="244.1" y2="453.6" stroke="#c0c0c0" stroke-width="0.6" />
<line x1="232.5" y1="442" x2="232.5" y2="459.2" stroke="#c0c0c0" stroke-width="0.6" />
<path d="M230.1,445.8 L232.5,442.6 L234.9,445.8" stroke="#111" stroke-width="1.1" fill="none" />
<rect x="222.2" y="424.9" width="22.6" height="8.4" stroke="#e0e0e0" stroke-width="0.6" fill="#fff" />
<text x="223.2" y="432" font-size="7.6" text-anchor="start" fill="#333" font-family="Liberation Sans" textLength="20.8" lengthAdjust="spacingAndGlyphs"  >+0.550</text>
<line x1="221.5" y1="491.2" x2="241.7" y2="498.4" stroke="#999" stroke-width="0.55" />
<line x1="273.2" y1="513" x2="268.5" y2="530.5" stroke="#999" stroke-width="0.55" />
<line x1="635.3" y1="397" x2="630.4" y2="412.2" stroke="#999" stroke-width="0.55" />
<line x1="755.3" y1="397" x2="750.4" y2="412.2" stroke="#999" stroke-width="0.55" />
<line x1="248.5" y1="492.1" x2="272" y2="492.1" stroke="#bbb" stroke-width="0.9" stroke-dasharray="4 2.5"/>
<text x="329" y="79.3" font-size="8.3" text-anchor="middle" fill="#222" font-family="Liberation Sans"  >ОК-1</text>
<text x="451.5" y="79.3" font-size="8.3" text-anchor="middle" fill="#222" font-family="Liberation Sans"  >ОК-1</text>
<text x="572" y="79.3" font-size="8.3" text-anchor="middle" fill="#222" font-family="Liberation Sans"  >ОК-1</text>
<text x="653.3" y="79.3" font-size="8.3" text-anchor="middle" fill="#222" font-family="Liberation Sans"  >ОК-4</text>
<text x="729.8" y="79.3" font-size="8.3" text-anchor="middle" fill="#222" font-family="Liberation Sans"  >ОК-4</text>
<text x="773.5" y="79.3" font-size="8.3" text-anchor="middle" fill="#222" font-family="Liberation Sans"  >ОК-4</text>
<text x="850" y="79.3" font-size="8.3" text-anchor="middle" fill="#222" font-family="Liberation Sans"  >ОК-4</text>
<text x="692" y="79.6" font-size="8.700000000000001" text-anchor="middle" fill="#222" font-family="Liberation Sans"  >Д4</text>
<text x="811.9" y="79.6" font-size="8.700000000000001" text-anchor="middle" fill="#222" font-family="Liberation Sans"  >Д4</text>
<text x="148.2" y="90.4" font-size="9" text-anchor="start" fill="#222" font-family="Liberation Sans"  >Д4</text>
<text x="152.1" y="119.3" font-size="8.4" text-anchor="start" fill="#222" font-family="Liberation Sans"  >ОК-5</text>
<text x="152" y="274.1" font-size="8.4" text-anchor="start" fill="#222" font-family="Liberation Sans"  >ОК-2</text>
<text x="152.2" y="516.2" font-size="8.4" text-anchor="start" fill="#222" font-family="Liberation Sans"  >ОК-2</text>
<text x="227.1" y="486.6" font-size="9.4" text-anchor="start" fill="#222" font-family="Liberation Sans"  >Д5</text>
<text x="276" y="524.6" font-size="9.4" text-anchor="start" fill="#222" font-family="Liberation Sans"  >Д6</text>
<text x="638.4" y="406.4" font-size="8.6" text-anchor="start" fill="#222" font-family="Liberation Sans"  >Д7</text>
<text x="758.2" y="406.4" font-size="8.6" text-anchor="start" fill="#222" font-family="Liberation Sans"  >Д7</text>
<text x="327.4" y="545.4" font-size="8.3" text-anchor="middle" fill="#222" font-family="Liberation Sans"  >В1</text>
<text x="448.1" y="545.4" font-size="8.3" text-anchor="middle" fill="#222" font-family="Liberation Sans"  >В1</text>
<text x="568.6" y="545.4" font-size="8.3" text-anchor="middle" fill="#222" font-family="Liberation Sans"  >В1</text>
<text x="688.8" y="545.4" font-size="8.3" text-anchor="middle" fill="#222" font-family="Liberation Sans"  >В1</text>
<text x="809.5" y="545.4" font-size="8.3" text-anchor="middle" fill="#222" font-family="Liberation Sans"  >В1</text>
<line x1="929.7" y1="137.5" x2="1180.6" y2="137.5" stroke="#8c8c8c" stroke-width="0.8" />
<line x1="929.7" y1="151.5" x2="1180.6" y2="151.5" stroke="#8c8c8c" stroke-width="0.8" />
<line x1="929.7" y1="165.5" x2="1180.6" y2="165.5" stroke="#8c8c8c" stroke-width="0.8" />
<line x1="929.7" y1="179.5" x2="1180.6" y2="179.5" stroke="#8c8c8c" stroke-width="0.8" />
<line x1="929.7" y1="193.5" x2="1180.6" y2="193.5" stroke="#8c8c8c" stroke-width="0.8" />
<line x1="929.7" y1="207.6" x2="1180.6" y2="207.6" stroke="#8c8c8c" stroke-width="0.8" />
<line x1="929.7" y1="221.8" x2="1180.6" y2="221.8" stroke="#8c8c8c" stroke-width="0.8" />
<line x1="929.7" y1="235.9" x2="1180.6" y2="235.9" stroke="#333" stroke-width="1.6" />
<line x1="929.7" y1="123.4" x2="1180.6" y2="123.4" stroke="#222" stroke-width="1.4" />
<line x1="959.7" y1="93.5" x2="959.7" y2="248.3" stroke="#222" stroke-width="1.3" />
<line x1="1120.2" y1="93.5" x2="1120.2" y2="248.3" stroke="#222" stroke-width="1.3" />
<line x1="1160.3" y1="93.5" x2="1160.3" y2="248.3" stroke="#222" stroke-width="1.3" />
<rect x="929.7" y="93.5" width="250.89999999999986" height="154.8" stroke="#222" stroke-width="1.3" fill="none" />
<text x="930.6" y="106.9" font-size="8.2" text-anchor="start" fill="#222" font-family="Liberation Sans" textLength="25.2" lengthAdjust="spacingAndGlyphs"  >Номер</text>
<text x="930.6" y="114.3" font-size="8.2" text-anchor="start" fill="#222" font-family="Liberation Sans" textLength="28.4" lengthAdjust="spacingAndGlyphs"  >помещ.</text>
<text x="1048.5" y="111.2" font-size="8.2" text-anchor="middle" fill="#222" font-family="Liberation Sans" textLength="57" lengthAdjust="spacingAndGlyphs"  >Наименование</text>
<text x="1141.2" y="111.2" font-size="8.2" text-anchor="middle" fill="#222" font-family="Liberation Sans" textLength="36.2" lengthAdjust="spacingAndGlyphs"  >Площадь</text>
<text x="1163.2" y="108.4" font-size="8.2" text-anchor="start" fill="#222" font-family="Liberation Sans"  >Кат.</text>
<text x="1162.8" y="117.1" font-size="8.2" text-anchor="start" fill="#222" font-family="Liberation Sans"  >пом.</text>
<text x="944.6" y="134.3" font-size="8.2" text-anchor="middle" fill="#222" font-family="Liberation Sans"  >1</text>
<text x="964.8" y="132.8" font-size="8.2" text-anchor="start" fill="#222" font-family="Liberation Sans" textLength="88.7" lengthAdjust="spacingAndGlyphs"  >Складское помещение</text>
<text x="1141.3" y="133.70000000000002" font-size="8.2" text-anchor="middle" fill="#222" font-family="Liberation Sans"  >101.50</text>
<text x="944.6" y="148.35000000000002" font-size="8.2" text-anchor="middle" fill="#222" font-family="Liberation Sans"  >2</text>
<text x="964.8" y="146.85000000000002" font-size="8.2" text-anchor="start" fill="#222" font-family="Liberation Sans" textLength="20.5" lengthAdjust="spacingAndGlyphs"  >Холл</text>
<text x="1141.3" y="147.75000000000003" font-size="8.2" text-anchor="middle" fill="#222" font-family="Liberation Sans"  >21.10</text>
<text x="944.6" y="162.4" font-size="8.2" text-anchor="middle" fill="#222" font-family="Liberation Sans"  >3</text>
<text x="964.8" y="160.9" font-size="8.2" text-anchor="start" fill="#222" font-family="Liberation Sans" textLength="40.4" lengthAdjust="spacingAndGlyphs"  >Котельная</text>
<text x="1141.3" y="161.8" font-size="8.2" text-anchor="middle" fill="#222" font-family="Liberation Sans"  >6.55</text>
<text x="944.6" y="176.45000000000002" font-size="8.2" text-anchor="middle" fill="#222" font-family="Liberation Sans"  >4</text>
<text x="964.8" y="174.95000000000002" font-size="8.2" text-anchor="start" fill="#222" font-family="Liberation Sans" textLength="73.7" lengthAdjust="spacingAndGlyphs"  >Лестничная клетка</text>
<text x="1141.3" y="175.85000000000002" font-size="8.2" text-anchor="middle" fill="#222" font-family="Liberation Sans"  >14.75</text>
<text x="944.6" y="190.50000000000003" font-size="8.2" text-anchor="middle" fill="#222" font-family="Liberation Sans"  >5</text>
<text x="964.8" y="189.00000000000003" font-size="8.2" text-anchor="start" fill="#222" font-family="Liberation Sans" textLength="81.9" lengthAdjust="spacingAndGlyphs"  >Помещение СТО №1</text>
<text x="1141.3" y="189.90000000000003" font-size="8.2" text-anchor="middle" fill="#222" font-family="Liberation Sans"  >429.80</text>
<text x="944.6" y="204.55" font-size="8.2" text-anchor="middle" fill="#222" font-family="Liberation Sans"  >6</text>
<text x="964.8" y="203.05" font-size="8.2" text-anchor="start" fill="#222" font-family="Liberation Sans" textLength="82.4" lengthAdjust="spacingAndGlyphs"  >Помещение СТО №2</text>
<text x="1141.3" y="203.95000000000002" font-size="8.2" text-anchor="middle" fill="#222" font-family="Liberation Sans"  >140.75</text>
<text x="944.6" y="218.60000000000002" font-size="8.2" text-anchor="middle" fill="#222" font-family="Liberation Sans"  >7</text>
<text x="964.8" y="217.10000000000002" font-size="8.2" text-anchor="start" fill="#222" font-family="Liberation Sans" textLength="82.4" lengthAdjust="spacingAndGlyphs"  >Помещение СТО №3</text>
<text x="1141.3" y="218.00000000000003" font-size="8.2" text-anchor="middle" fill="#222" font-family="Liberation Sans"  >139.35</text>
<text x="944.6" y="232.65" font-size="8.2" text-anchor="middle" fill="#222" font-family="Liberation Sans"  >8</text>
<text x="964.8" y="231.15" font-size="8.2" text-anchor="start" fill="#222" font-family="Liberation Sans" textLength="29.4" lengthAdjust="spacingAndGlyphs"  >Тамбур</text>
<text x="1141.3" y="232.05" font-size="8.2" text-anchor="middle" fill="#222" font-family="Liberation Sans"  >12.95</text>
<text x="1114.9" y="245" font-size="8.2" text-anchor="end" fill="#222" font-family="Liberation Sans"  >Итого:</text>
<text x="1141.3" y="245" font-size="8.2" text-anchor="middle" fill="#222" font-family="Liberation Sans"  >866.75</text>
<text x="974" y="648.4" font-size="8.2" text-anchor="start" fill="#222" font-family="Liberation Sans" textLength="142.7" lengthAdjust="spacingAndGlyphs"  >1. Разрез 1-1 выполнен см. л. АР-16.</text>
<text x="974" y="657.4" font-size="8.2" text-anchor="start" fill="#222" font-family="Liberation Sans" textLength="143.7" lengthAdjust="spacingAndGlyphs"  >2. Разрез 2-2 выполнен см. л. АР-17.</text>
<text x="974" y="666.4" font-size="8.2" text-anchor="start" fill="#222" font-family="Liberation Sans" textLength="193.7" lengthAdjust="spacingAndGlyphs"  >3. Спецификация заполнения оконных и дверных</text>
<text x="983.3" y="675.3" font-size="8.2" text-anchor="start" fill="#222" font-family="Liberation Sans" textLength="131.3" lengthAdjust="spacingAndGlyphs"  >проемов выполнена см. л. АР-18.</text>
<text x="974" y="684" font-size="8.2" text-anchor="start" fill="#222" font-family="Liberation Sans" textLength="183.3" lengthAdjust="spacingAndGlyphs"  >4. Экспликация полов выполнена см. л. АР-18.</text>
<line x1="659" y1="717" x2="1200" y2="717" stroke="#1e1e1e" stroke-width="1.2" />
<line x1="659" y1="717" x2="659" y2="882.3" stroke="#1e1e1e" stroke-width="1.2" />
<line x1="719.6" y1="717" x2="719.6" y2="882.3" stroke="#1e1e1e" stroke-width="1.2" />
<line x1="779.6" y1="717" x2="779.6" y2="882.3" stroke="#1e1e1e" stroke-width="1.2" />
<line x1="824.4" y1="717" x2="824.4" y2="882.3" stroke="#1e1e1e" stroke-width="1.2" />
<line x1="854.4" y1="717" x2="854.4" y2="882.3" stroke="#1e1e1e" stroke-width="1.2" />
<line x1="689.2" y1="717" x2="689.2" y2="793.6" stroke="#777" stroke-width="1.2" />
<line x1="749.5" y1="717" x2="749.5" y2="793.6" stroke="#777" stroke-width="1.2" />
<line x1="659" y1="732.4" x2="854.4" y2="732.4" stroke="#1e1e1e" stroke-width="1.2" />
<line x1="659" y1="747.6" x2="854.4" y2="747.6" stroke="#1e1e1e" stroke-width="1.2" />
<line x1="659" y1="762.6" x2="854.4" y2="762.6" stroke="#1e1e1e" stroke-width="1.2" />
<line x1="659" y1="777.6" x2="854.4" y2="777.6" stroke="#1e1e1e" stroke-width="1.2" />
<line x1="659" y1="793.6" x2="854.4" y2="793.6" stroke="#1e1e1e" stroke-width="1.2" />
<line x1="659" y1="807.6" x2="854.4" y2="807.6" stroke="#1e1e1e" stroke-width="1.2" />
<line x1="659" y1="822.6" x2="854.4" y2="822.6" stroke="#1e1e1e" stroke-width="1.2" />
<line x1="659" y1="837.4" x2="854.4" y2="837.4" stroke="#1e1e1e" stroke-width="1.2" />
<line x1="659" y1="852.6" x2="854.4" y2="852.6" stroke="#1e1e1e" stroke-width="1.2" />
<line x1="659" y1="867.6" x2="854.4" y2="867.6" stroke="#1e1e1e" stroke-width="1.2" />
<line x1="854.4" y1="747.4" x2="1200" y2="747.4" stroke="#1e1e1e" stroke-width="1.2" />
<line x1="854.4" y1="794.6" x2="1200" y2="794.6" stroke="#1e1e1e" stroke-width="1.2" />
<line x1="854.4" y1="837.5" x2="1200" y2="837.5" stroke="#1e1e1e" stroke-width="1.2" />
<line x1="1065.8" y1="794.6" x2="1065.8" y2="882.3" stroke="#1e1e1e" stroke-width="1.2" />
<line x1="1111" y1="794.6" x2="1111" y2="837.5" stroke="#1e1e1e" stroke-width="1.2" />
<line x1="1156.2" y1="794.6" x2="1156.2" y2="837.5" stroke="#1e1e1e" stroke-width="1.2" />
<line x1="1065.8" y1="809.2" x2="1200" y2="809.2" stroke="#1e1e1e" stroke-width="1.2" />
<text x="662.4" y="789.6" font-size="12" text-anchor="start" fill="#111" font-family="Liberation Sans" textLength="25.600000000000023" lengthAdjust="spacingAndGlyphs"  >Изм.</text>
<text x="690" y="789.6" font-size="12" text-anchor="start" fill="#111" font-family="Liberation Sans" textLength="24.399999999999977" lengthAdjust="spacingAndGlyphs"  >Кол.</text>
<text x="720.4" y="789.6" font-size="12" text-anchor="start" fill="#111" font-family="Liberation Sans" textLength="26.600000000000023" lengthAdjust="spacingAndGlyphs"  >Лист</text>
<text x="782" y="789.6" font-size="12" text-anchor="start" fill="#111" font-family="Liberation Sans" textLength="33.60000000000002" lengthAdjust="spacingAndGlyphs"  >Подп.</text>
<text x="825.6" y="789.6" font-size="12" text-anchor="start" fill="#111" font-family="Liberation Sans" textLength="28.0" lengthAdjust="spacingAndGlyphs"  >Дата</text>
<text x="750" y="789.8" font-size="9.5" text-anchor="start" fill="#111" font-family="Liberation Sans" textLength="28" lengthAdjust="spacingAndGlyphs"  >№док.</text>
<text x="661.6" y="819.6" font-size="10" text-anchor="start" fill="#111" font-family="Liberation Sans" textLength="46.4" lengthAdjust="spacingAndGlyphs"  >Разработал</text>
<text x="723" y="819" font-size="10" text-anchor="start" fill="#111" font-family="Liberation Sans" textLength="49" lengthAdjust="spacingAndGlyphs"  >Домрачева</text>
<text x="829" y="821" font-size="10.5" text-anchor="start" fill="#111" font-family="Liberation Sans" textLength="21" lengthAdjust="spacingAndGlyphs"  >02.22</text>
<text x="661.6" y="849" font-size="10" text-anchor="start" fill="#111" font-family="Liberation Sans" textLength="34.8" lengthAdjust="spacingAndGlyphs"  >Н. контр.</text>
<text x="723" y="849" font-size="10" text-anchor="start" fill="#888" font-family="Liberation Sans" textLength="51" lengthAdjust="spacingAndGlyphs"  >Двоеглазов</text>
<text x="829" y="851" font-size="10.5" text-anchor="start" fill="#111" font-family="Liberation Sans" textLength="21" lengthAdjust="spacingAndGlyphs"  >02.22</text>
<text x="661.6" y="864.4" font-size="10" text-anchor="start" fill="#111" font-family="Liberation Sans" textLength="16.4" lengthAdjust="spacingAndGlyphs"  >ГИП</text>
<text x="726" y="864" font-size="10" text-anchor="start" fill="#111" font-family="Liberation Sans" textLength="45" lengthAdjust="spacingAndGlyphs"  >Коротаев</text>
<text x="829" y="866" font-size="10.5" text-anchor="start" fill="#111" font-family="Liberation Sans" textLength="21" lengthAdjust="spacingAndGlyphs"  >02.22</text>
<text x="1039.2" y="736.8" font-size="12.3" text-anchor="middle" fill="#111" font-family="Liberation Sans" textLength="61.8" lengthAdjust="spacingAndGlyphs"  >02-22П-АР</text>
<text x="1034.5" y="767.7" font-size="10.6" text-anchor="middle" fill="#111" font-family="Liberation Sans" textLength="236" lengthAdjust="spacingAndGlyphs"  >"Здание СТО с АБК" расположенного по адресу:</text>
<text x="1038.8" y="778.6" font-size="10.6" text-anchor="middle" fill="#111" font-family="Liberation Sans" textLength="175.2" lengthAdjust="spacingAndGlyphs"  >Вологодская область, г. Череповец.</text>
<text x="965.6" y="820.2" font-size="10.6" text-anchor="middle" fill="#111" font-family="Liberation Sans" textLength="72" lengthAdjust="spacingAndGlyphs"  >ООО "Сириус"</text>
<text x="1066.4" y="806.8" font-size="13" text-anchor="start" fill="#111" font-family="Liberation Sans" textLength="43.2" lengthAdjust="spacingAndGlyphs"  >Стадия</text>
<text x="1118.8" y="806.8" font-size="13" text-anchor="start" fill="#111" font-family="Liberation Sans" textLength="27.2" lengthAdjust="spacingAndGlyphs"  >Лист</text>
<text x="1162.7" y="806.8" font-size="13" text-anchor="start" fill="#111" font-family="Liberation Sans"  >Листов</text>
<text x="1080.3" y="828.1" font-size="13" text-anchor="start" fill="#111" font-family="Liberation Sans" textLength="17.5" lengthAdjust="spacingAndGlyphs"  >ЭП</text>
<text x="1125.5" y="828.1" font-size="13" text-anchor="start" fill="#111" font-family="Liberation Sans" textLength="13.1" lengthAdjust="spacingAndGlyphs"  >11</text>
<text x="1170.7" y="828.1" font-size="13" text-anchor="start" fill="#111" font-family="Liberation Sans" textLength="13.1" lengthAdjust="spacingAndGlyphs"  >18</text>
<text x="875.7" y="865.1" font-size="13" text-anchor="start" fill="#111" font-family="Liberation Sans" textLength="175" lengthAdjust="spacingAndGlyphs"  >Маркировочный план 1 этажа</text>
<text x="1100.7" y="863.1" font-size="13" text-anchor="start" fill="#111" font-family="Liberation Sans" textLength="83" lengthAdjust="spacingAndGlyphs"  >ООО "Альянс"</text>
<rect x="781" y="806" width="34" height="18" fill="#fff"/>
<line x1="781" y1="807.6" x2="815" y2="807.6" stroke="#ddd" stroke-width="0.8" />
<line x1="781" y1="822.6" x2="815" y2="822.6" stroke="#ddd" stroke-width="0.8" />
<line x1="816.3" y1="801" x2="816.3" y2="830.4" stroke="#ccc" stroke-width="0.8" />
<path d="M783.7,817.7 C785,815.8 788,816 790.3,817.7 C789,814 791,808 794,804 C796.5,802.5 799,804 799.5,806 C800.5,809 800,814 796.9,817.7 C795,819 792.5,819 791.2,818.6" stroke="#666" stroke-width="0.75" fill="none" />
<path d="M801.6,813 C799,819 795,826 793.1,830 C793.5,831 795,830 795.6,828.5 C798,823 801,819 803.5,816.7" stroke="#666" stroke-width="0.75" fill="none" />
<path d="M811,804.5 C807,812 803,821 800.7,827.6 C801,828.5 802,828 802.5,826.5 C805,819 809,811 811.6,805.2 C811.8,804 811.4,803.8 811,804.5" stroke="#666" stroke-width="0.75" fill="none" />
<line x1="803.5" y1="816.7" x2="812" y2="814" stroke="#777" stroke-width="0.7" />
<path d="M787.5,857.4 C792,851 797,845 802.6,840.4" stroke="#111" stroke-width="2.0" fill="none" />
<path d="M802,839.4 C801,841 800.5,843 800.7,844.1 C803,843.5 806,844 806.4,846 C806.5,848 805.5,850 805.4,851.7 C806.5,849.5 808,848 811,846 C816,843.5 822,841.8 828,841.3" stroke="#111" stroke-width="1.2" fill="none" />
<ellipse cx="795" cy="862" rx="10" ry="4.6" transform="rotate(-38 795 862)" stroke="#444" stroke-width="0.8" fill="none"/>
<ellipse cx="796" cy="861" rx="7" ry="3.2" transform="rotate(-38 796 861)" stroke="#444" stroke-width="0.7" fill="none"/>
<path d="M801,868 C806,861 811,853 815,848 M804,868 C809,860 813,853 818,849 M806.5,866 C811,859 815,853 820,850 M798,870 C803,864 808,857 812,852" stroke="#555" stroke-width="0.7" fill="none" />
<path d="M786,866 C790,860 799,856 803,859 C805,862 796,868 790,868" stroke="#555" stroke-width="0.7" fill="none" />
<line x1="809.2" y1="865" x2="802.1" y2="876.3" stroke="#444" stroke-width="0.8" />
</svg>
</body></html>
